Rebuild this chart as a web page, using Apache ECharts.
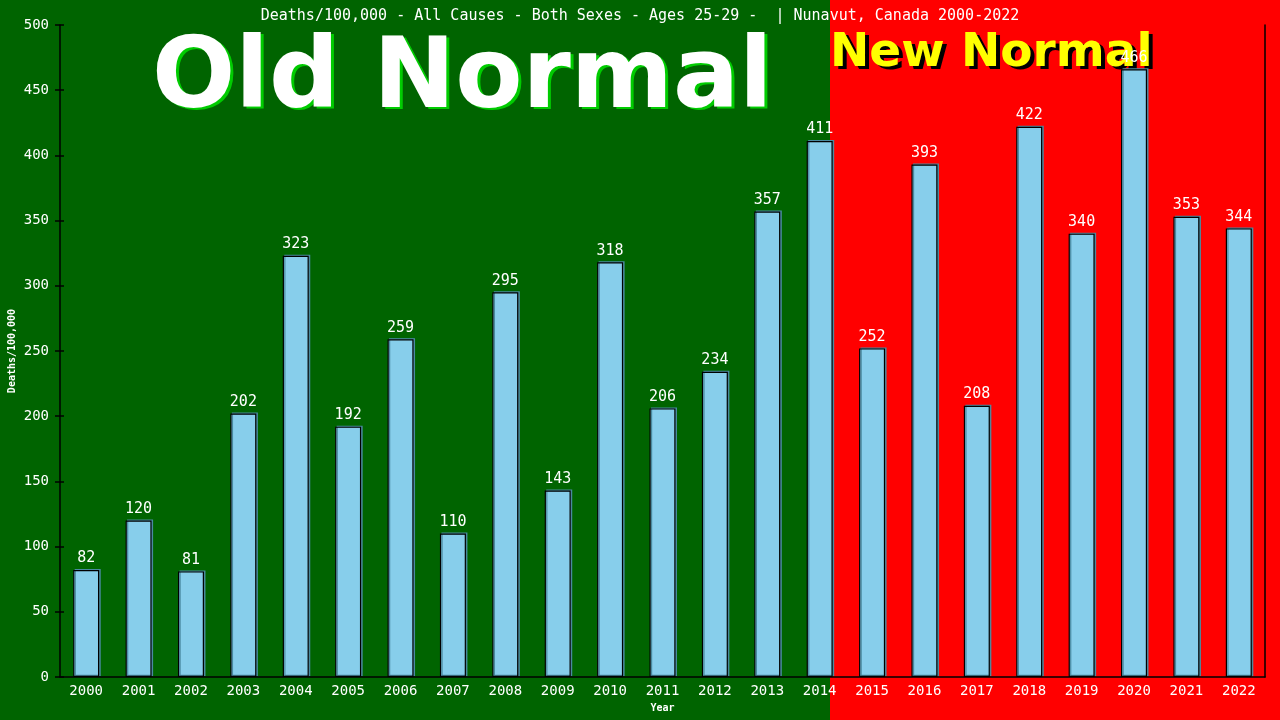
<!DOCTYPE html>
<html><head><meta charset="utf-8">
<script src="https://cdn.jsdelivr.net/npm/echarts@6/dist/echarts.min.js"></script>
<style>html,body{margin:0;padding:0;background:#006400}#c{width:1280px;height:720px}</style>
</head><body><div id="c"></div>
<script>
const categories = ['2000','2001','2002','2003','2004','2005','2006','2007','2008','2009','2010','2011','2012','2013','2014','2015','2016','2017','2018','2019','2020','2021','2022'];
const deaths = [82,120,81,202,323,192,259,110,295,143,318,206,234,357,411,252,393,208,422,340,466,353,344];
const titleText = 'Deaths/100,000 - All Causes - Both Sexes - Ages 25-29 -  | Nunavut, Canada 2000-2022';
const mono = 'DejaVu Sans Mono';
const bigFont = 'bold 98px "DejaVu Sans"';
const newFont = 'bold 47px "DejaVu Sans"';
const chart = echarts.init(document.getElementById('c'));
chart.setOption({
  backgroundColor: '#006400',
  animation: false,
  title: { text: titleText, left: 'center', top: 4, textStyle: { color: '#fff', fontFamily: mono, fontSize: 15, fontWeight: 'normal' } },
  graphic: [
    { type: 'rect', left: 830, top: 0, shape: { width: 450, height: 720 }, style: { fill: '#ff0000' }, z: -10 },
    { type: 'text', left: 155, top: 35, z: 1, style: { text: 'Old Normal', fill: '#00cc00', font: bigFont } },
    { type: 'text', left: 152, top: 33, z: 2, style: { text: 'Old Normal', fill: '#ffffff', font: bigFont } },
    { type: 'text', left: 834, top: 33, z: 1, style: { text: 'New Normal', fill: '#000000', font: newFont } },
    { type: 'text', left: 830, top: 30, z: 2, style: { text: 'New Normal', fill: '#ffff00', font: newFont } }
  ],
  grid: { left: 60, right: 15, top: 25, bottom: 43, containLabel: false, outerBoundsMode: 'none' },
  xAxis: {
    type: 'category', data: categories,
    name: 'Year', nameLocation: 'middle', nameGap: 26,
    nameTextStyle: { color: '#fff', fontFamily: mono, fontSize: 10, fontWeight: 'bold' },
    axisLine: { lineStyle: { color: '#000', width: 1.5 } },
    axisTick: { show: false },
    axisLabel: { color: '#fff', fontFamily: mono, fontSize: 14, margin: 7 }
  },
  yAxis: [{
    type: 'value', min: 0, max: 500, interval: 50,
    name: 'Deaths/100,000', nameLocation: 'middle', nameGap: 43, nameMoveOverlap: false,
    nameTextStyle: { color: '#fff', fontFamily: mono, fontSize: 10, fontWeight: 'bold' },
    axisLine: { show: true, lineStyle: { color: '#000', width: 1.5 } },
    axisTick: { show: true, length: 5, lineStyle: { color: '#000', width: 1.5 } },
    axisLabel: { color: '#fff', fontFamily: mono, fontSize: 14, margin: 11 },
    splitLine: { show: false }
  }, {
    type: 'value', min: 0, max: 500, interval: 50, position: 'right',
    axisLine: { show: true, lineStyle: { color: '#000', width: 1.5 } },
    axisTick: { show: false }, axisLabel: { show: false }, splitLine: { show: false }
  }, {
    type: 'value', min: 0, max: 500, interval: 50, position: 'left',
    axisLine: { show: false },
    axisTick: { show: true, inside: true, length: 4, lineStyle: { color: '#000', width: 1.5 } },
    axisLabel: { show: false }, splitLine: { show: false }
  }],
  series: [{
    type: 'bar', data: deaths, barWidth: 26, z: 5,
    itemStyle: { color: '#87ceeb', borderColor: '#000', borderWidth: 1.2, shadowColor: '#4a8aa0', shadowOffsetX: 1.5, shadowOffsetY: -1, shadowBlur: 0 },
    label: { show: true, position: 'top', distance: 4, color: '#fff', fontFamily: mono, fontSize: 15 }
  }]
});
</script></body></html>
